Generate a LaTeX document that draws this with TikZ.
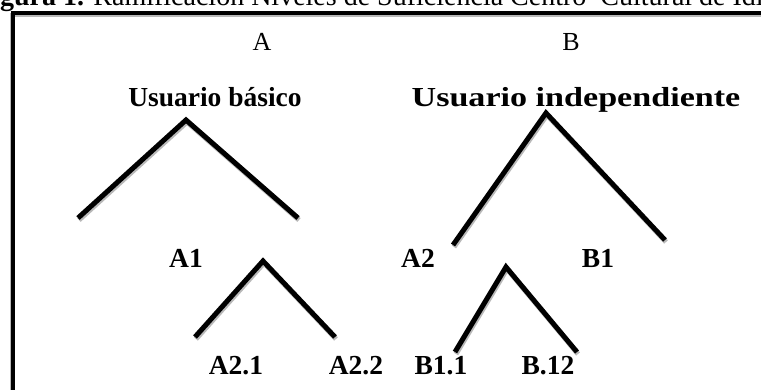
\documentclass[tikz,border=0pt]{standalone}
\usepackage{fontspec}
\setmainfont{Liberation Serif}
\tikzset{
  branch/.style={line width=5pt, preaction={draw=gray!55, line width=5pt, transform canvas={shift={(1pt,-2pt)}}}},
  frameline/.style={line width=4pt, preaction={draw=gray!55, line width=4pt, transform canvas={shift={(-1pt,-1.5pt)}}}},
  level/.style={font=\fontsize{27.5}{30}\selectfont\bfseries, anchor=base, inner sep=0pt},
  group/.style={font=\fontsize{26}{28}\selectfont, anchor=base, inner sep=0pt}
}
\begin{document}
\begin{tikzpicture}[x=1pt, y=-1pt]
        \useasboundingbox (0,0) rectangle (761,389);
        \clip (0,0) rectangle (761,389);
        \fill[white] (0,0) rectangle (761,389);

        % Caption and frame
        \node[font=\fontsize{28}{30}\selectfont, anchor=base west, inner sep=0pt] (caption) at (-25,5)
            {\textbf{Figura 1.} Ramificación Niveles de Suficiencia Centro\ \ Cultural de Idiomas};
        \draw[frameline] (12.5,13) rectangle (820,450);

        % Define labels
        \node[group] (A) at (262,50) {A};
        \node[group] (B) at (571,50) {B};
        \node[level] (basico) at (215,106) {Usuario básico};
        \node[level] (indep) at (576,106) {\scalebox{1.24}[1]{Usuario independiente}};
        \node[level] (A1) at (186,267) {A1};
        \node[level] (A2) at (418,267) {A2};
        \node[level] (B1) at (598,267) {B1};
        \node[level] (A21) at (236,374) {A2.1};
        \node[level] (A22) at (356,374) {A2.2};
        \node[level] (B11) at (441,374) {B1.1};
        \node[level] (B12) at (548,374) {B.12};

        % Define branch points
        \coordinate (top1) at (186,120);
        \coordinate (end1a) at (78,218);
        \coordinate (end1b) at (298,218);
        \coordinate (top2) at (546,113);
        \coordinate (end2a) at (453,245);
        \coordinate (end2b) at (665,240);
        \coordinate (top3) at (263,261);
        \coordinate (end3a) at (195,337);
        \coordinate (end3b) at (335,337);
        \coordinate (top4) at (506,267);
        \coordinate (end4a) at (455,352);
        \coordinate (end4b) at (577,352);

        % Draw branches
        \draw[branch] (end1a) -- (top1) -- (end1b);
        \draw[branch] (end2a) -- (top2) -- (end2b);
        \draw[branch] (end3a) -- (top3) -- (end3b);
        \draw[branch] (end4a) -- (top4) -- (end4b);
\end{tikzpicture}
\end{document}
